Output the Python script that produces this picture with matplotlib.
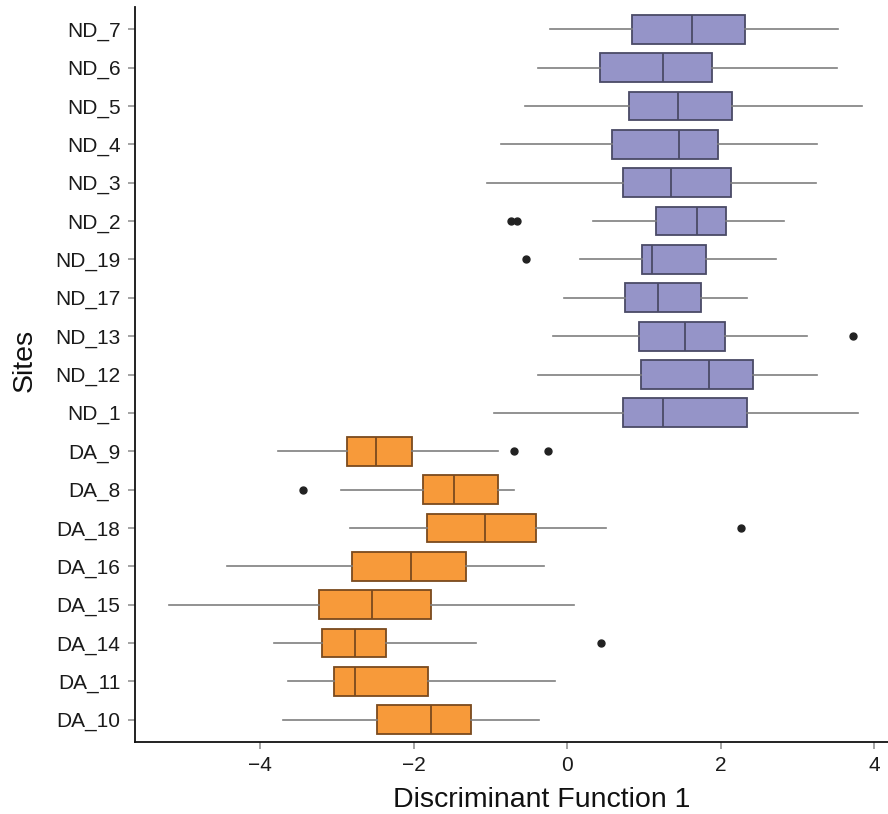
import matplotlib
matplotlib.use("Agg")
import matplotlib.pyplot as plt

plt.rcParams['font.family'] = ['Liberation Sans', 'DejaVu Sans']

# Sites listed bottom to top
sites = ["DA_10", "DA_11", "DA_14", "DA_15", "DA_16", "DA_18", "DA_8", "DA_9",
         "ND_1", "ND_12", "ND_13", "ND_17", "ND_19", "ND_2", "ND_3", "ND_4",
         "ND_5", "ND_6", "ND_7"]

# Five-number summaries of Discriminant Function 1 per site
whisker_low = [-3.70, -3.64, -3.82, -5.19, -4.43, -2.83, -2.95, -3.77,
               -0.96, -0.38, -0.19, -0.04, 0.16, 0.33, -1.04, -0.86,
               -0.55, -0.38, -0.22]
q1 = [-2.48, -3.04, -3.20, -3.24, -2.81, -1.83, -1.88, -2.87,
      0.72, 0.96, 0.94, 0.75, 0.97, 1.16, 0.73, 0.58,
      0.80, 0.43, 0.84]
median = [-1.77, -2.77, -2.77, -2.55, -2.03, -1.07, -1.47, -2.49,
          1.25, 1.85, 1.54, 1.18, 1.10, 1.69, 1.35, 1.46,
          1.44, 1.25, 1.62]
q3 = [-1.26, -1.82, -2.36, -1.78, -1.32, -0.41, -0.90, -2.02,
      2.34, 2.42, 2.06, 1.74, 1.81, 2.07, 2.14, 1.96,
      2.15, 1.88, 2.32]
whisker_high = [-0.37, -0.16, -1.19, 0.09, -0.30, 0.51, -0.70, -0.90,
                3.79, 3.26, 3.12, 2.34, 2.72, 2.83, 3.24, 3.26,
                3.84, 3.51, 3.53]
outliers = [[], [], [0.44], [], [], [2.27], [-3.44], [-0.69, -0.25],
            [], [], [3.73], [], [-0.54], [-0.73, -0.65], [], [],
            [], [], []]

groups = ["DA" if s.startswith("DA") else "ND" for s in sites]
fill_colors = {"DA": "#F79A3A", "ND": "#9594C8"}
edge_colors = {"DA": "#7a4a1e", "ND": "#4a4a66"}

W, H = 888, 814
fig = plt.figure(figsize=(W / 100, H / 100), dpi=100)
ax = fig.add_axes([134.5 / W, 1 - 742 / H, 1 - 134.5 / W, (742 - 7) / H])

stats = []
for i, s in enumerate(sites):
    stats.append(dict(label=s, whislo=whisker_low[i], q1=q1[i], med=median[i],
                      q3=q3[i], whishi=whisker_high[i], fliers=outliers[i]))

positions = list(range(len(sites)))
art = ax.bxp(stats, positions=positions, widths=0.75, orientation='horizontal',
             patch_artist=True, showcaps=False,
             whiskerprops=dict(color="#7f7f7f", linewidth=1.2),
             flierprops=dict(marker='o', markersize=5, markerfacecolor="#222222",
                             markeredgecolor="#222222"),
             medianprops=dict(linewidth=1.3))

for i, box in enumerate(art['boxes']):
    g = groups[i]
    box.set_facecolor(fill_colors[g])
    box.set_edgecolor(edge_colors[g])
    box.set_linewidth(1.3)
for i, med in enumerate(art['medians']):
    med.set_color(edge_colors[groups[i]])

ax.set_xlim(-5.64, 4.18)
ax.set_ylim(-0.58, len(sites) - 1 + 0.58)
ax.set_xticks([-4, -2, 0, 2, 4])
ax.set_xticklabels(["\u22124", "\u22122", "0", "2", "4"])
ax.set_yticks(positions)
ax.set_yticklabels(sites)

for side in ("top", "right"):
    ax.spines[side].set_visible(False)
for side in ("left", "bottom"):
    ax.spines[side].set_linewidth(1.3)
    ax.spines[side].set_color("#111111")

ax.tick_params(axis='both', length=5, width=1.1, color="#8a8a8a",
               labelsize=15, labelcolor="#1a1a1a")
ax.tick_params(axis='y', pad=5)
ax.tick_params(axis='x', pad=5)

fig.text(542 / W, 1 - 800 / H, "Discriminant Function 1", fontsize=20.5,
         ha='center', va='center', color="#111111")
fig.text(25 / W, 1 - 360 / H, "Sites", fontsize=20.5, rotation=90,
         ha='center', va='center', color="#111111")

fig.savefig("out.png", dpi=100)
